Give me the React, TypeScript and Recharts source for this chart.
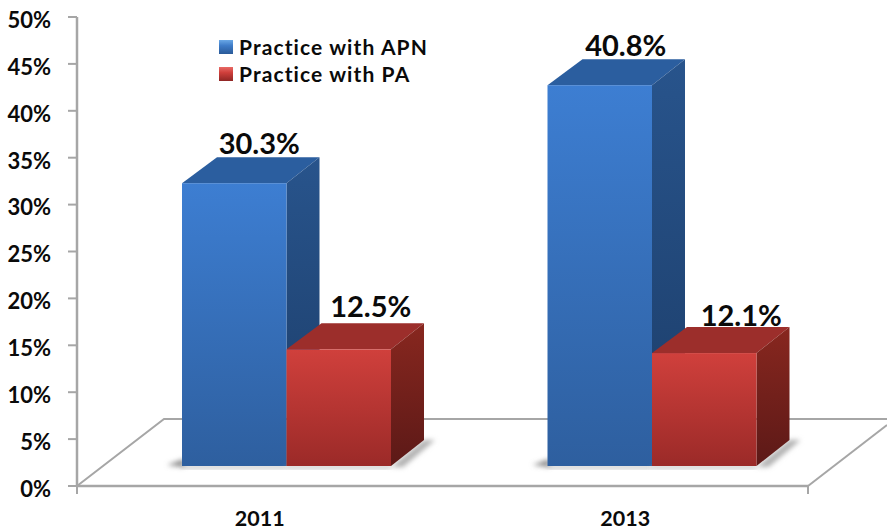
import { BarChart, Bar, XAxis, YAxis, Legend } from 'recharts';

const categories = ['2011', '2013'];
const apnValues = [30.3, 40.8];
const paValues = [12.5, 12.1];
const yTicks = [0, 5, 10, 15, 20, 25, 30, 35, 40, 45, 50];

const data = categories.map((name, i) => ({ name, apn: apnValues[i], pa: paValues[i] }));

const FONT = 'Lato, "Open Sans", sans-serif';
const AXIS = '#a6a6a6';

// plot rectangle of the chart
const WIDTH = 887;
const HEIGHT = 529;
const LEFT = 77;
const RIGHT = 808;
const TOP = 17;
const BOTTOM = 486;

// the fake 3D: the boxes stand on a floor drawn above the axis
const FLOOR_LIFT = 20;
const SHIFT_X = 27;
const DEPTH_X = 33;
const DEPTH_Y = 26;
const SQUASH = 0.995;

const labelShift: Record<string, number[]> = { apn: [25, 26], pa: [32, 37] };
const labelGap: Record<string, number[]> = { apn: [13, 13], pa: [16, 11] };

const colors: Record<string, { top: string; front: string; side: string }> = {
    apn: { top: '#2b5e9f', front: 'url(#frontBlue)', side: 'url(#sideBlue)' },
    pa: { top: '#9c2e2b', front: 'url(#frontRed)', side: 'url(#sideRed)' },
};

function Box(props: any) {
    const { x, y, width, height, index, payload, series } = props;
    const h = height * SQUASH;
    const left = x + SHIFT_X;
    const right = left + width;
    const base = y + height - FLOOR_LIFT;
    const top = base - h;
    const c = colors[series];
    const backTop = top - DEPTH_Y;
    return (
        <g>
            <text
                x={left + width / 2 + labelShift[series][index]}
                y={backTop - labelGap[series][index] + 10}
                textAnchor="middle"
                fontFamily={FONT}
                fontWeight={700}
                fontSize={29}
                fill="#0a0a0a"
            >
                {payload[series].toFixed(1)}%
            </text>
            {series === 'apn' ? (
                <polygon
                    points={`${left + 2},${base - 7} ${left - 15},${base - 1} ${left + 2},${base + 1}`}
                    fill="#888"
                    filter="url(#soft)"
                />
            ) : (
                <polygon
                    points={`${right},${base + 1} ${right + DEPTH_X},${base - DEPTH_Y} ${right + DEPTH_X + 11},${base - DEPTH_Y} ${right + 12},${base + 1}`}
                    fill="#b0b0b0"
                    filter="url(#soft)"
                />
            )}
            <rect x={left} y={base} width={width} height={2} fill="#999" filter="url(#soft)" />
            <polygon
                points={`${left},${top} ${left + DEPTH_X + 2},${backTop} ${right + DEPTH_X},${backTop} ${right},${top}`}
                fill={c.top}
            />
            <polygon
                points={`${right},${top} ${right + DEPTH_X},${backTop} ${right + DEPTH_X},${base - DEPTH_Y} ${right},${base}`}
                fill={c.side}
            />
            <rect x={left} y={top} width={width} height={h} fill={c.front} />
        </g>
    );
}

// floor outline behind the boxes, plus the two ticks below the value axis
function Floor() {
    const backY = BOTTOM - 67;
    const line = { stroke: AXIS, strokeWidth: 2, fill: 'none' };
    return (
        <g>
            <polyline points={`${LEFT},${BOTTOM} ${LEFT + 87},${backY} ${WIDTH},${backY}`} {...line} />
            <line x1={RIGHT} y1={BOTTOM} x2={WIDTH} y2={BOTTOM - 61} {...line} />
            <line x1={LEFT} y1={BOTTOM} x2={LEFT} y2={BOTTOM + 8} {...line} />
            <line x1={RIGHT} y1={BOTTOM} x2={RIGHT} y2={BOTTOM + 8} {...line} />
        </g>
    );
}

function Gradient({ id, from, to }: { id: string; from: string; to: string }) {
    return (
        <linearGradient id={id} x1="0" y1="0" x2="0" y2="1">
            <stop offset="0%" stopColor={from} />
            <stop offset="100%" stopColor={to} />
        </linearGradient>
    );
}

function LegendBox({ payload }: any) {
    return (
        <div style={{ fontFamily: FONT, fontWeight: 700, fontSize: 21, letterSpacing: 1.1, color: '#0a0a0a' }}>
            {(payload || []).map((item: any) => (
                <div key={item.value} style={{ display: 'flex', alignItems: 'center', height: 27 }}>
                    <span
                        style={{
                            width: 14,
                            height: 14,
                            marginRight: 6,
                            background:
                                item.dataKey === 'apn'
                                    ? 'linear-gradient(#6aa8e6, #3f7cc8 40%, #2a5a98)'
                                    : 'linear-gradient(#e86a66, #cf3f3b 40%, #8f2624)',
                        }}
                    />
                    {item.value}
                </div>
            ))}
        </div>
    );
}

export default function App() {
    return (
        <div style={{ position: 'absolute', left: 0, top: 0, background: '#fff' }}>
            <BarChart
                width={WIDTH}
                height={HEIGHT}
                data={data}
                margin={{ top: TOP, right: WIDTH - RIGHT, bottom: 0, left: 0 }}
                barSize={104.5}
                barGap={0}
            >
                <defs>
                    <Gradient id="frontBlue" from="#3d7ed2" to="#2e5f9f" />
                    <Gradient id="sideBlue" from="#28548c" to="#1c3d69" />
                    <Gradient id="frontRed" from="#d0403c" to="#9b2a28" />
                    <Gradient id="sideRed" from="#88271f" to="#5c1917" />
                    <filter id="soft" x="-30%" y="-100%" width="160%" height="300%">
                        <feGaussianBlur stdDeviation="2.5" />
                    </filter>
                </defs>
                <Floor />
                <XAxis
                    dataKey="name"
                    height={HEIGHT - BOTTOM}
                    axisLine={{ stroke: AXIS, strokeWidth: 2.5 }}
                    tickLine={false}
                    tickMargin={19}
                    tick={{ fontFamily: FONT, fontWeight: 700, fontSize: 21.5, fill: '#0a0a0a' }}
                />
                <YAxis
                    width={LEFT}
                    domain={[0, 50]}
                    ticks={yTicks}
                    interval={0}
                    tickFormatter={(v: number) => `${v}%`}
                    axisLine={{ stroke: AXIS, strokeWidth: 2.5 }}
                    tickLine={{ stroke: AXIS, strokeWidth: 2 }}
                    tickSize={9}
                    tickMargin={17}
                    tick={{ fontFamily: FONT, fontWeight: 700, fontSize: 22, fill: '#0a0a0a', dy: 3 }}
                />
                {/* vertical + center + middle keeps the legend from taking room off the plot */}
                <Legend
                    layout="vertical"
                    verticalAlign="middle"
                    align="center"
                    wrapperStyle={{ left: 219, top: 33, width: 260 }}
                    content={<LegendBox />}
                />
                <Bar
                    dataKey="apn"
                    name="Practice with APN"
                    isAnimationActive={false}
                    shape={(p: any) => <Box {...p} series="apn" />}
                />
                <Bar
                    dataKey="pa"
                    name="Practice with PA"
                    isAnimationActive={false}
                    shape={(p: any) => <Box {...p} series="pa" />}
                />
            </BarChart>
        </div>
    );
}
